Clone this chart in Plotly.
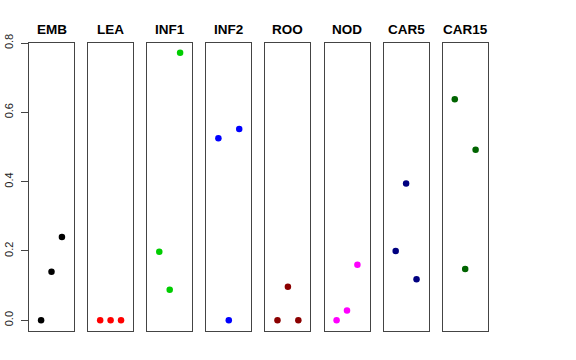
import plotly.graph_objects as go

categories = ["EMB", "LEA", "INF1", "INF2", "ROO", "NOD", "CAR5", "CAR15"]
positions = [1, 2, 3]
values = {
    "EMB":   [0.0, 0.14, 0.24],
    "LEA":   [0.0, 0.0, 0.0],
    "INF1":  [0.198, 0.088, 0.772],
    "INF2":  [0.525, 0.0, 0.552],
    "ROO":   [0.0, 0.097, 0.0],
    "NOD":   [0.0, 0.028, 0.16],
    "CAR5":  [0.20, 0.395, 0.118],
    "CAR15": [0.638, 0.148, 0.492],
}
colors = ["#000000", "#FF0000", "#00CD00", "#0000FF", "#8B0000", "#FF00FF", "#000080", "#006400"]
y_ticks = [0.0, 0.2, 0.4, 0.6, 0.8]
y_tick_labels = ["0.0", "0.2", "0.4", "0.6", "0.8"]

W, H = 576, 360
panel_left0 = 29.0
panel_w = 45.0
pitch = 59.1
box_top, box_bottom = 42.7, 331.0
ydom = [(H - box_bottom) / H, (H - box_top) / H]

fig = go.Figure()
layout = dict(
    width=W, height=H,
    margin=dict(l=0, r=0, t=0, b=0, pad=0, autoexpand=False),
    paper_bgcolor="white", plot_bgcolor="white",
    showlegend=False,
    font=dict(family="Liberation Sans, Arial, sans-serif", color="#000000"),
    annotations=[],
)

for i, cat in enumerate(categories):
    n = "" if i == 0 else str(i + 1)
    x0 = panel_left0 + i * pitch
    xd = [x0 / W, (x0 + panel_w) / W]
    fig.add_trace(go.Scatter(
        x=positions, y=values[cat], mode="markers",
        marker=dict(color=colors[i], size=6.5, line=dict(width=0)),
        xaxis="x" + n, yaxis="y" + n, hoverinfo="skip",
    ))
    layout["xaxis" + n] = dict(
        domain=xd, range=[-0.16, 4.16], showgrid=False, zeroline=False,
        showticklabels=False, ticks="", showline=True, mirror=True,
        linecolor="#444444", linewidth=1, anchor="y" + n, fixedrange=True,
        automargin=False,
    )
    yax = dict(
        domain=ydom, range=[-0.031, 0.801], showgrid=False, zeroline=False,
        showline=True, mirror=True, linecolor="#444444", linewidth=1,
        anchor="x" + n, fixedrange=True, automargin=False,
    )
    if i == 0:
        yax.update(
            tickmode="array", tickvals=y_ticks, ticktext=y_tick_labels,
            ticks="outside", ticklen=7, tickcolor="#444444", tickwidth=1,
            tickangle=-90, tickfont=dict(size=11, color="#222222"),
            showticklabels=True, ticklabelstandoff=4,
        )
    else:
        yax.update(showticklabels=False, ticks="")
    layout["yaxis" + n] = yax
    layout["annotations"].append(dict(
        text="<b>%s</b>" % cat, x=(x0 + panel_w / 2) / W, y=(H - 29) / H,
        xref="paper", yref="paper", showarrow=False,
        xanchor="center", yanchor="middle",
        font=dict(size=13.5, color="#000000"),
    ))

fig.update_layout(**layout)
fig.write_html(
    "out.html",
    config={"displayModeBar": False, "staticPlot": True},
    post_script="document.body.style.margin='0';document.body.style.overflow='hidden';",
)
